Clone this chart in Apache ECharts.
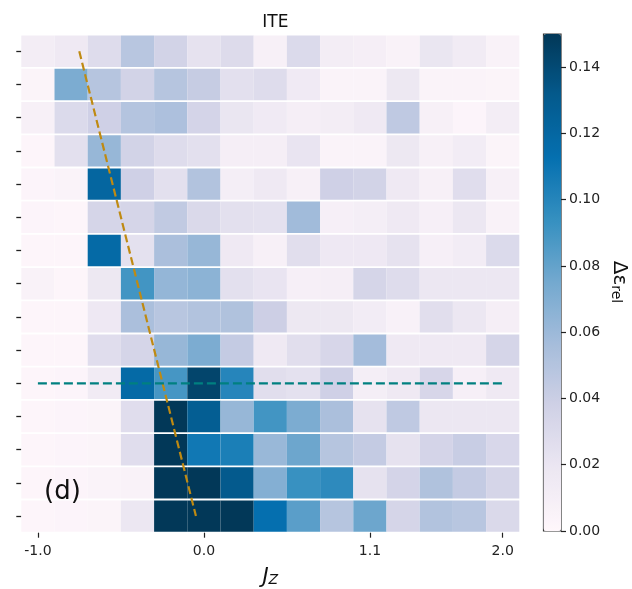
<!DOCTYPE html>
<html>
<head>
<meta charset="utf-8">
<script src="https://cdn.jsdelivr.net/npm/echarts@6/dist/echarts.min.js"></script>
<style>
  html, body { margin: 0; padding: 0; background: #fff; }
  #chart { width: 632px; height: 589px; }
</style>
</head>
<body>
<div id="chart"></div>
<script>
// J_z grid (15 columns) and 15 rows, listed top row first
const jzCategories = ['-1.00','-0.79','-0.57','-0.36','-0.14','0.07','0.29','0.50','0.71','0.93','1.14','1.36','1.57','1.79','2.00'];
const rowCategories = ['0','1','2','3','4','5','6','7','8','9','10','11','12','13','14'];

// tick positions (column index) and their labels on the J_z axis
const xTickIndex = [0, 5, 10, 14];
const xTickLabels = ['-1.0', '0.0', '1.1', '2.0'];

// colour bar ticks
const cbarTicks = [0, 0.02, 0.04, 0.06, 0.08, 0.10, 0.12, 0.14];

// relative error per cell, one array per row (top to bottom)
const row0  = [0.012,0.016,0.028,0.048,0.036,0.023,0.029,0.008,0.030,0.012,0.010,0.006,0.020,0.014,0.006];
const row1  = [0.004,0.072,0.049,0.036,0.049,0.042,0.025,0.028,0.015,0.005,0.005,0.018,0.005,0.005,0.004];
const row2  = [0.008,0.030,0.038,0.050,0.053,0.035,0.020,0.015,0.010,0.012,0.016,0.045,0.008,0.003,0.012];
const row3  = [0.002,0.025,0.062,0.036,0.028,0.025,0.010,0.010,0.021,0.005,0.005,0.018,0.008,0.013,0.004];
const row4  = [0.003,0.005,0.121,0.038,0.025,0.051,0.011,0.016,0.008,0.038,0.036,0.016,0.008,0.027,0.008];
const row5  = [0.003,0.002,0.034,0.034,0.044,0.031,0.025,0.024,0.058,0.009,0.011,0.016,0.009,0.019,0.006];
const row6  = [0.002,0.002,0.118,0.024,0.054,0.062,0.016,0.008,0.026,0.017,0.017,0.023,0.009,0.013,0.030];
const row7  = [0.006,0.002,0.018,0.090,0.063,0.066,0.025,0.021,0.009,0.010,0.034,0.028,0.019,0.019,0.019];
const row8  = [0.002,0.002,0.017,0.054,0.048,0.051,0.052,0.039,0.018,0.018,0.013,0.007,0.026,0.019,0.010];
const row9  = [0.002,0.002,0.027,0.034,0.062,0.072,0.043,0.016,0.026,0.033,0.057,0.016,0.016,0.016,0.034];
const row10 = [0.002,0.003,0.014,0.118,0.089,0.143,0.100,0.026,0.024,0.038,0.011,0.016,0.033,0.009,0.016];
const row11 = [0.002,0.003,0.004,0.027,0.150,0.128,0.062,0.090,0.072,0.054,0.023,0.045,0.019,0.019,0.019];
const row12 = [0.002,0.003,0.004,0.027,0.150,0.108,0.104,0.061,0.077,0.049,0.043,0.023,0.035,0.041,0.032];
const row13 = [0.002,0.003,0.005,0.006,0.150,0.150,0.131,0.069,0.093,0.097,0.023,0.035,0.052,0.043,0.034];
const row14 = [0.002,0.003,0.004,0.019,0.150,0.150,0.150,0.113,0.083,0.049,0.077,0.034,0.051,0.048,0.031];

// guide lines in (J_z, row) coordinates
const slantedLine = [[-0.733, 0], [0.020, 14]];
const levelLine = [[-1.0, 10], [2.0, 10]];

const rows = [row0,row1,row2,row3,row4,row5,row6,row7,row8,row9,row10,row11,row12,row13,row14];
const cells = [];
rows.forEach((r, yi) => r.forEach((v, xi) => cells.push([xi, yi, v])));

const PuBu = ['#fff7fb','#ece7f2','#d0d1e6','#a6bddb','#74a9cf','#3690c0','#0570b0','#045a8d','#023858'];
const FONT = 'DejaVu Sans';
const INK = '#222';

const G = { left: 21.3, top: 34.7, width: 498, height: 498 };
const CB = { left: 543.5, top: 34, width: 17.5, height: 497 };
const step = 3 / 14;

// invisible axis line, kept at the grid edge
const hiddenLine = { show: true, onZero: false, lineStyle: { color: '#222', opacity: 0 } };

const chart = echarts.init(document.getElementById('chart'), null, { renderer: 'canvas' });

chart.setOption({
  animation: false,
  backgroundColor: '#fff',
  textStyle: { fontFamily: FONT },
  title: {
    text: 'ITE',
    left: G.left + G.width / 2,
    textAlign: 'center',
    top: 9,
    textStyle: { fontFamily: FONT, fontSize: 17, fontWeight: 'normal', color: '#111' }
  },
  grid: [
    { left: G.left, top: G.top, width: G.width, height: G.height, containLabel: false, outerBoundsMode: 'none' },
    { left: CB.left, top: CB.top, width: CB.width, height: CB.height, show: true, outerBoundsMode: 'none',
      backgroundColor: 'transparent', borderColor: '#333', borderWidth: 1.2 }
  ],
  xAxis: [
    {
      type: 'category', gridIndex: 0, data: jzCategories, boundaryGap: true, position: 'bottom',
      axisLine: hiddenLine,
      axisTick: { show: true, alignWithLabel: true, length: 5,
        interval: (i) => xTickIndex.includes(i),
        lineStyle: { color: '#222', width: 1.2, opacity: 1 } },
      axisLabel: { show: true, margin: 12, fontFamily: FONT, fontSize: 14, color: INK,
        interval: (i) => xTickIndex.includes(i),
        formatter: (v, i) => xTickLabels[xTickIndex.indexOf(i)] },
      splitLine: { show: false },
      name: '{j|J}{z|Z}',
      nameLocation: 'middle',
      nameGap: 34,
      nameTextStyle: {
        rich: {
          j: { fontFamily: FONT, fontStyle: 'italic', fontSize: 21, lineHeight: 21, verticalAlign: 'top', color: '#111' },
          z: { fontFamily: FONT, fontStyle: 'italic', fontSize: 14, lineHeight: 8, verticalAlign: 'bottom', color: '#111' }
        }
      }
    },
    {
      type: 'value', gridIndex: 0, min: -1 - step / 2, max: 2 + step / 2, show: false,
      axisLine: { onZero: false }
    },
    { type: 'value', gridIndex: 1, show: false, min: 0, max: 1, axisLine: { onZero: false } }
  ],
  yAxis: [
    {
      type: 'category', gridIndex: 0, data: rowCategories, inverse: true, boundaryGap: true, position: 'left',
      axisLine: hiddenLine,
      axisTick: { show: true, alignWithLabel: true, interval: 0, length: 5, lineStyle: { color: '#222', width: 1.3, opacity: 1 } },
      axisLabel: { show: false },
      splitLine: { show: false }
    },
    {
      type: 'value', gridIndex: 0, min: -0.5, max: 14.5, inverse: true, show: false,
      axisLine: { onZero: false }
    },
    {
      type: 'value', gridIndex: 1, min: 0, max: 0.15, position: 'right',
      axisLine: hiddenLine,
      splitLine: { show: false },
      axisTick: { show: true, length: 5, customValues: cbarTicks, lineStyle: { color: '#222', width: 1.2, opacity: 1 } },
      axisLabel: { show: true, margin: 8, fontFamily: FONT, fontSize: 14, color: INK,
        customValues: cbarTicks, formatter: (v) => v.toFixed(2) }
    }
  ],
  visualMap: {
    type: 'continuous',
    min: 0, max: 0.15,
    dimension: 2,
    seriesIndex: 0,
    calculable: false,
    hoverLink: false,
    inRange: { color: PuBu },
    orient: 'vertical',
    left: CB.left, top: CB.top,
    itemWidth: CB.width, itemHeight: CB.height,
    padding: 0,
    text: null,
    show: true
  },
  graphic: [
    {
      type: 'text', left: 44, top: 479, z: 100,
      style: { text: '(d)', font: '26px "DejaVu Sans"', fill: '#111' }
    },
    {
      type: 'text', x: 619, y: 282, rotation: -Math.PI / 2, z: 100,
      style: {
        text: '{a|\u0394\u03b5}{b|rel}',
        align: 'center', verticalAlign: 'middle',
        rich: {
          a: { fontFamily: FONT, fontSize: 20, lineHeight: 20, verticalAlign: 'top', fill: '#111' },
          b: { fontFamily: FONT, fontSize: 14, lineHeight: 8, verticalAlign: 'bottom', fill: '#111' }
        }
      }
    }
  ],
  series: [
    {
      type: 'custom',
      xAxisIndex: 0, yAxisIndex: 0,
      data: cells,
      encode: { x: 0, y: 1 },
      renderItem: (params, api) => {
        const c = api.coord([api.value(0), api.value(1)]);
        const s = api.size([1, 1]);
        const gap = 1.8;
        return {
          type: 'rect',
          shape: { x: c[0] - s[0] / 2, y: c[1] - s[1] / 2 + gap / 2, width: s[0], height: s[1] - gap },
          style: { fill: api.visual('color') }
        };
      }
    },
    {
      type: 'line', xAxisIndex: 1, yAxisIndex: 1,
      data: slantedLine, symbol: 'none', z: 5,
      lineStyle: { color: '#bf8a12', width: 2.2, type: [8, 3.8] }
    },
    {
      type: 'line', xAxisIndex: 1, yAxisIndex: 1,
      data: levelLine, symbol: 'none', z: 5,
      lineStyle: { color: '#008080', width: 2.2, type: [9, 4] }
    }
  ]
});
</script>
</body>
</html>
